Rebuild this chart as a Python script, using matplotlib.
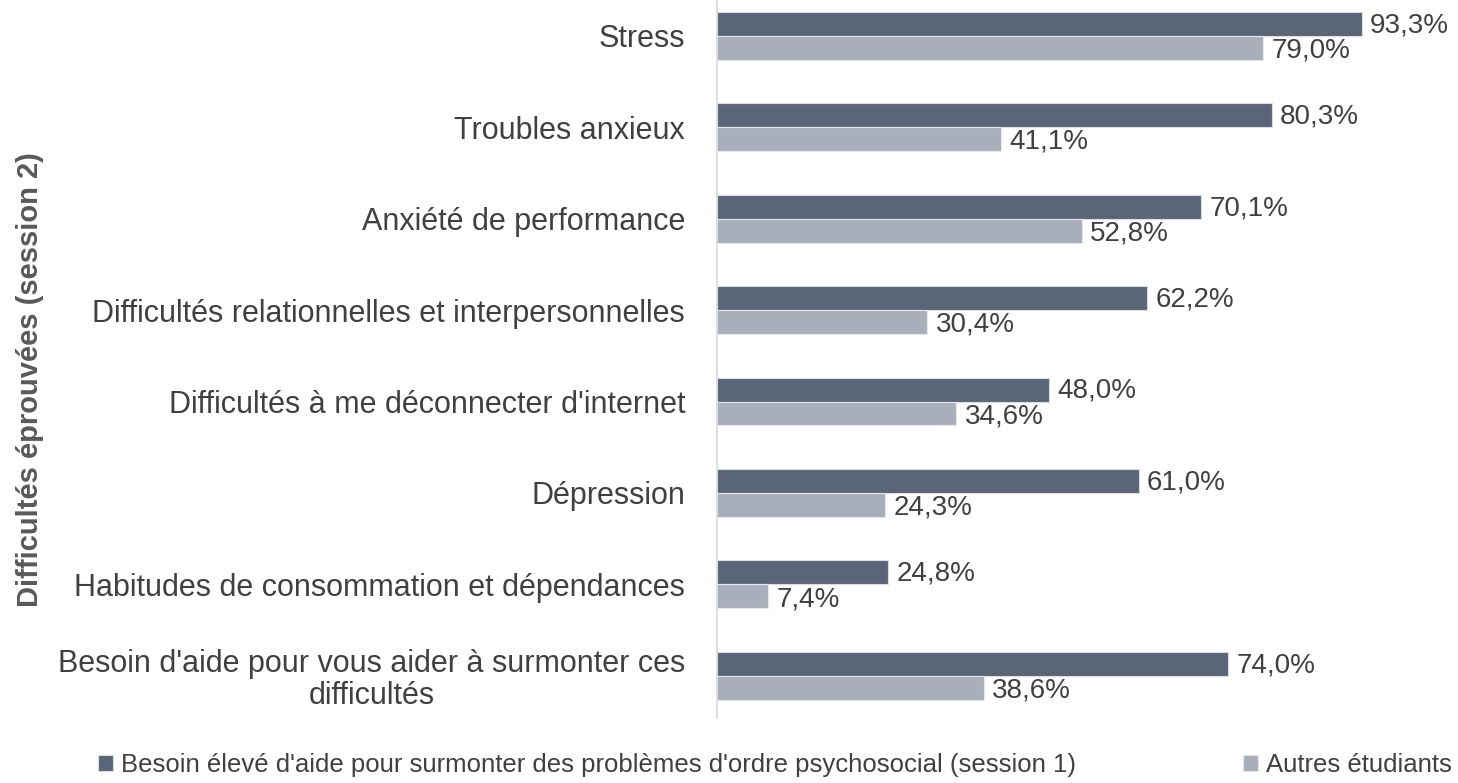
import matplotlib
matplotlib.use("Agg")
import matplotlib.pyplot as plt
import numpy as np

# donnees du graphique
categories = [
    "Stress",
    "Troubles anxieux",
    "Anxiété de performance",
    "Difficultés relationnelles et interpersonnelles",
    "Difficultés à me déconnecter d'internet",
    "Dépression",
    "Habitudes de consommation et dépendances",
    "Besoin d'aide pour vous aider à surmonter ces\ndifficultés",
]
besoin_eleve = [93.3, 80.3, 70.1, 62.2, 48.0, 61.0, 24.8, 74.0]
autres = [79.0, 41.1, 52.8, 30.4, 34.6, 24.3, 7.4, 38.6]

serie1 = "Besoin élevé d'aide pour surmonter des problèmes d'ordre psychosocial (session 1)"
serie2 = "Autres étudiants"

dark = "#5a6577"
light = "#a9afba"
txt = "#404040"

plt.rcParams["font.family"] = ["Liberation Sans", "DejaVu Sans"]

fig = plt.figure(figsize=(14.58, 7.83), dpi=100)
ax = fig.add_axes([717 / 1458, 65 / 783, 691 / 1458, 718 / 783])

y = np.arange(len(categories))
h = 0.262

b1 = ax.barh(y - h / 2, besoin_eleve, height=h, color=dark, edgecolor="#d9dde3", linewidth=0.8, label=serie1)
b2 = ax.barh(y + h / 2, autres, height=h, color=light, edgecolor="#e6e8ec", linewidth=0.8, label=serie2)

def fmt(v):
    return ("%.1f%%" % v).replace(".", ",")

# etiquettes des valeurs
for yy, v in zip(y, besoin_eleve):
    ax.annotate(fmt(v), (v, yy - h / 2), xytext=(6, -1), textcoords="offset points",
                ha="left", va="center", fontsize=20, color=txt, annotation_clip=False)
for yy, v in zip(y, autres):
    ax.annotate(fmt(v), (v, yy + h / 2), xytext=(6, -2), textcoords="offset points",
                ha="left", va="center", fontsize=20, color=txt, annotation_clip=False)

ax.set_xlim(0, 100)
ax.set_ylim(7.46, -0.39)
ax.set_yticks(y)
ax.set_yticklabels(categories, fontsize=22, color=txt, multialignment="center", linespacing=1.05)
ax.tick_params(axis="y", length=0, pad=23)
ax.set_xticks([])

for s in ["top", "right", "bottom"]:
    ax.spines[s].set_visible(False)
ax.spines["left"].set_color("#d9d9d9")
ax.spines["left"].set_linewidth(1.2)

fig.text(30 / 1458, 1 - 380 / 783, "Difficultés éprouvées (session 2)", rotation=90,
         ha="center", va="center", fontsize=21, fontweight="bold", color="#595959")

leg = fig.legend(handles=[b1, b2], loc="center", bbox_to_anchor=(775 / 1458, 1 - 765 / 783),
                 ncol=2, frameon=False, fontsize=18.5, handlelength=0.6, handleheight=0.6,
                 handletextpad=0.3, columnspacing=6.5, labelcolor=txt)

fig.savefig("out.png", dpi=100)
